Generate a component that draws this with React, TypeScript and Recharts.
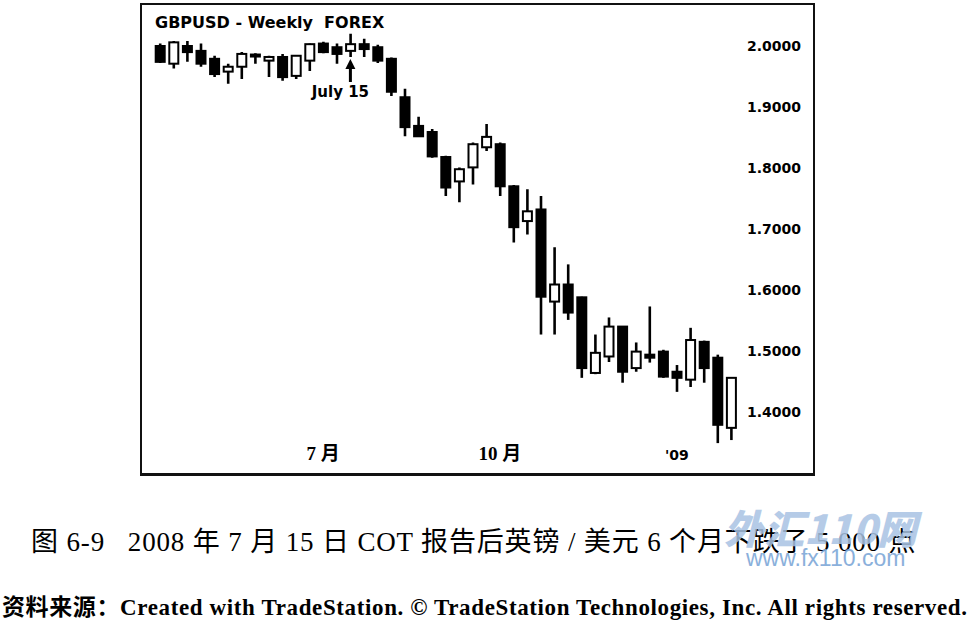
import { Bar, ComposedChart, ReferenceDot, XAxis, YAxis } from "recharts";

// week starting dates, Apr 2008 - Jan 2009
const WEEKS = [
  "2008-04-07", "2008-04-14", "2008-04-21", "2008-04-28",
  "2008-05-05", "2008-05-12", "2008-05-19", "2008-05-26",
  "2008-06-02", "2008-06-09", "2008-06-16", "2008-06-23", "2008-06-30",
  "2008-07-07", "2008-07-14", "2008-07-21", "2008-07-28",
  "2008-08-04", "2008-08-11", "2008-08-18", "2008-08-25",
  "2008-09-01", "2008-09-08", "2008-09-15", "2008-09-22", "2008-09-29",
  "2008-10-06", "2008-10-13", "2008-10-20", "2008-10-27",
  "2008-11-03", "2008-11-10", "2008-11-17", "2008-11-24",
  "2008-12-01", "2008-12-08", "2008-12-15", "2008-12-22", "2008-12-29",
  "2009-01-05", "2009-01-12", "2009-01-19", "2009-01-26",
];

const OPENS = [
  2.0, 1.971, 2.0, 1.992, 1.979, 1.958, 1.966, 1.986, 1.976, 1.982, 1.951, 1.976, 2.004,
  1.998, 1.992, 2.003, 1.998, 1.979, 1.916, 1.869, 1.859, 1.818, 1.778, 1.801, 1.834, 1.839,
  1.77, 1.713, 1.732, 1.581, 1.609, 1.588, 1.464, 1.491, 1.54, 1.472, 1.494, 1.499, 1.466,
  1.453, 1.515, 1.489, 1.374,
];
const HIGHS = [
  2.004, 2.008, 2.008, 2.004, 1.984, 1.971, 1.99, 1.988, 1.984, 1.987, 1.984, 2.004, 2.007,
  2.004, 2.02, 2.012, 2.002, 1.981, 1.93, 1.884, 1.864, 1.82, 1.801, 1.842, 1.872, 1.842,
  1.772, 1.765, 1.754, 1.67, 1.642, 1.589, 1.527, 1.555, 1.541, 1.514, 1.573, 1.502, 1.477,
  1.538, 1.517, 1.494, 1.456,
];
const LOWS = [
  1.972, 1.963, 1.974, 1.966, 1.949, 1.938, 1.946, 1.971, 1.949, 1.943, 1.946, 1.959, 1.988,
  1.971, 1.982, 1.982, 1.972, 1.918, 1.852, 1.852, 1.817, 1.754, 1.744, 1.773, 1.828, 1.754,
  1.678, 1.691, 1.527, 1.527, 1.551, 1.456, 1.462, 1.482, 1.448, 1.466, 1.481, 1.456, 1.433,
  1.441, 1.448, 1.349, 1.354,
];
const CLOSES = [
  1.974, 2.006, 1.99, 1.971, 1.954, 1.966, 1.987, 1.983, 1.982, 1.949, 1.984, 2.003, 1.99,
  1.987, 2.003, 1.995, 1.976, 1.925, 1.867, 1.852, 1.819, 1.768, 1.798, 1.839, 1.851, 1.77,
  1.703, 1.729, 1.589, 1.609, 1.563, 1.472, 1.497, 1.54, 1.466, 1.499, 1.489, 1.458, 1.456,
  1.518, 1.472, 1.379, 1.456,
];

const PRICE_TICKS = [1.4, 1.5, 1.6, 1.7, 1.8, 1.9, 2.0];
const MONTH_TICKS = ["2008-06-30", "2008-09-29", "2008-12-29"];
const MONTH_LABELS = ["7 月", "10 月", "'09"];

const MARKED_WEEK = "2008-07-14";
const MARKED_LABEL = "July 15";
const MARKED_PRICE = 1.941;

const data = WEEKS.map((week, i) => ({
  week,
  open: OPENS[i],
  high: HIGHS[i],
  low: LOWS[i],
  close: CLOSES[i],
}));

const sansBold = "'DejaVu Sans', sans-serif";
const bookSerif = "'Liberation Serif', 'Noto Sans CJK SC', serif";

function Candle(props: any) {
  const { x, y, width, height, payload } = props;
  if (!payload || height == null) return null;
  const { open, close, high, low } = payload;
  const top = Math.min(y, y + height);
  const span = Math.abs(height);
  const perUnit = span / (high - low);
  const cx = x + width / 2;
  const bodyTop = top + (high - Math.max(open, close)) * perUnit;
  const bodyBottom = top + (high - Math.min(open, close)) * perUnit;
  const up = close > open;
  return (
    <g>
      <line x1={cx} x2={cx} y1={top} y2={top + span} stroke="#000" strokeWidth={2.6} />
      <rect
        x={cx - 4.5}
        y={bodyTop}
        width={9}
        height={Math.max(bodyBottom - bodyTop, 2)}
        fill={up ? "#fff" : "#000"}
        stroke="#000"
        strokeWidth={2}
      />
    </g>
  );
}

function MonthTick({ x, y, payload }: any) {
  const idx = MONTH_TICKS.indexOf(payload.value);
  const label = MONTH_LABELS[idx] ?? "";
  const isYear = label.startsWith("'");
  return (
    <text
      x={x}
      y={y}
      dy={-21}
      textAnchor="middle"
      fill="#000"
      fontSize={isYear ? 14 : 19}
      fontWeight="bold"
      fontFamily={isYear ? sansBold : bookSerif}
    >
      {label}
    </text>
  );
}

function JulyArrow({ cx, cy }: any) {
  return (
    <g>
      <line x1={cx} x2={cx} y1={cy} y2={cy - 15} stroke="#000" strokeWidth={3} />
      <path d={`M${cx - 5},${cy - 13} L${cx},${cy - 23} L${cx + 5},${cy - 13} Z`} fill="#000" />
      <text x={cx - 10} y={cy + 15} textAnchor="middle" fontSize={15} fontWeight="bold" fontFamily={sansBold} fill="#000">
        {MARKED_LABEL}
      </text>
    </g>
  );
}

export default function App() {
  return (
    <div style={{ position: "relative", width: 972, height: 621, background: "#fff", overflow: "hidden" }}>
      <style>{"body{margin:0}"}</style>
      <div
        style={{
          position: "absolute",
          left: 140,
          top: 3,
          width: 675,
          height: 473,
          border: "2px solid #111",
          borderBottomWidth: 3,
          boxSizing: "border-box",
        }}
      />
      <div
        style={{
          position: "absolute",
          left: 155,
          top: 13,
          fontFamily: sansBold,
          fontWeight: "bold",
          fontSize: 16,
          whiteSpace: "pre",
          color: "#000",
        }}
      >
        {"GBPUSD - Weekly  FOREX"}
      </div>
      <div style={{ position: "absolute", left: 0, top: 0 }}>
        <ComposedChart
          width={972}
          height={500}
          data={data}
          margin={{ top: 15.5, right: 164, bottom: 7, left: 153.2 }}
        >
          <XAxis
            dataKey="week"
            type="category"
            height={20}
            ticks={MONTH_TICKS}
            interval={0}
            axisLine={false}
            tickLine={false}
            tick={<MonthTick />}
          />
          <YAxis
            orientation="right"
            width={70}
            domain={[1.3, 2.05]}
            ticks={PRICE_TICKS}
            allowDataOverflow
            axisLine={false}
            tickLine={false}
            tickMargin={3}
            tickFormatter={(v: number) => v.toFixed(4)}
            tick={{ fill: "#000", fontSize: 14, fontWeight: "bold", fontFamily: sansBold }}
          />
          <Bar
            dataKey={(d: any) => [d.low, d.high]}
            barSize={10}
            shape={<Candle />}
            isAnimationActive={false}
          />
          <ReferenceDot x={MARKED_WEEK} y={MARKED_PRICE} r={0} shape={<JulyArrow />} />
        </ComposedChart>
      </div>
      <div
        style={{
          position: "absolute",
          left: 31,
          top: 520,
          fontFamily: bookSerif,
          fontSize: 27,
          letterSpacing: 0.85,
          whiteSpace: "pre",
          color: "#000",
        }}
      >
        {"图 6-9   2008 年 7 月 15 日 COT 报告后英镑 / 美元 6 个月下跌了 5 000 点"}
      </div>
      <div
        style={{
          position: "absolute",
          left: 2,
          top: 588,
          fontFamily: bookSerif,
          fontSize: 23,
          letterSpacing: 0.62,
          fontWeight: "bold",
          whiteSpace: "pre",
          color: "#000",
        }}
      >
        {"资料来源：Created with TradeStation. © TradeStation Technologies, Inc. All rights reserved."}
      </div>
      <div
        style={{
          position: "absolute",
          left: 724,
          top: 498,
          fontFamily: "'Noto Sans CJK SC', sans-serif",
          fontSize: 40,
          fontWeight: 900,
          fontStyle: "italic",
          color: "#a9c3e3",
          opacity: 0.85,
          whiteSpace: "pre",
        }}
      >
        {"外汇110网"}
      </div>
      <div
        style={{
          position: "absolute",
          left: 746,
          top: 545,
          fontFamily: "'Liberation Sans', sans-serif",
          fontSize: 23,
          color: "#7ea8d8",
          opacity: 0.9,
          whiteSpace: "pre",
        }}
      >
        {"www.fx110.com"}
      </div>
    </div>
  );
}
